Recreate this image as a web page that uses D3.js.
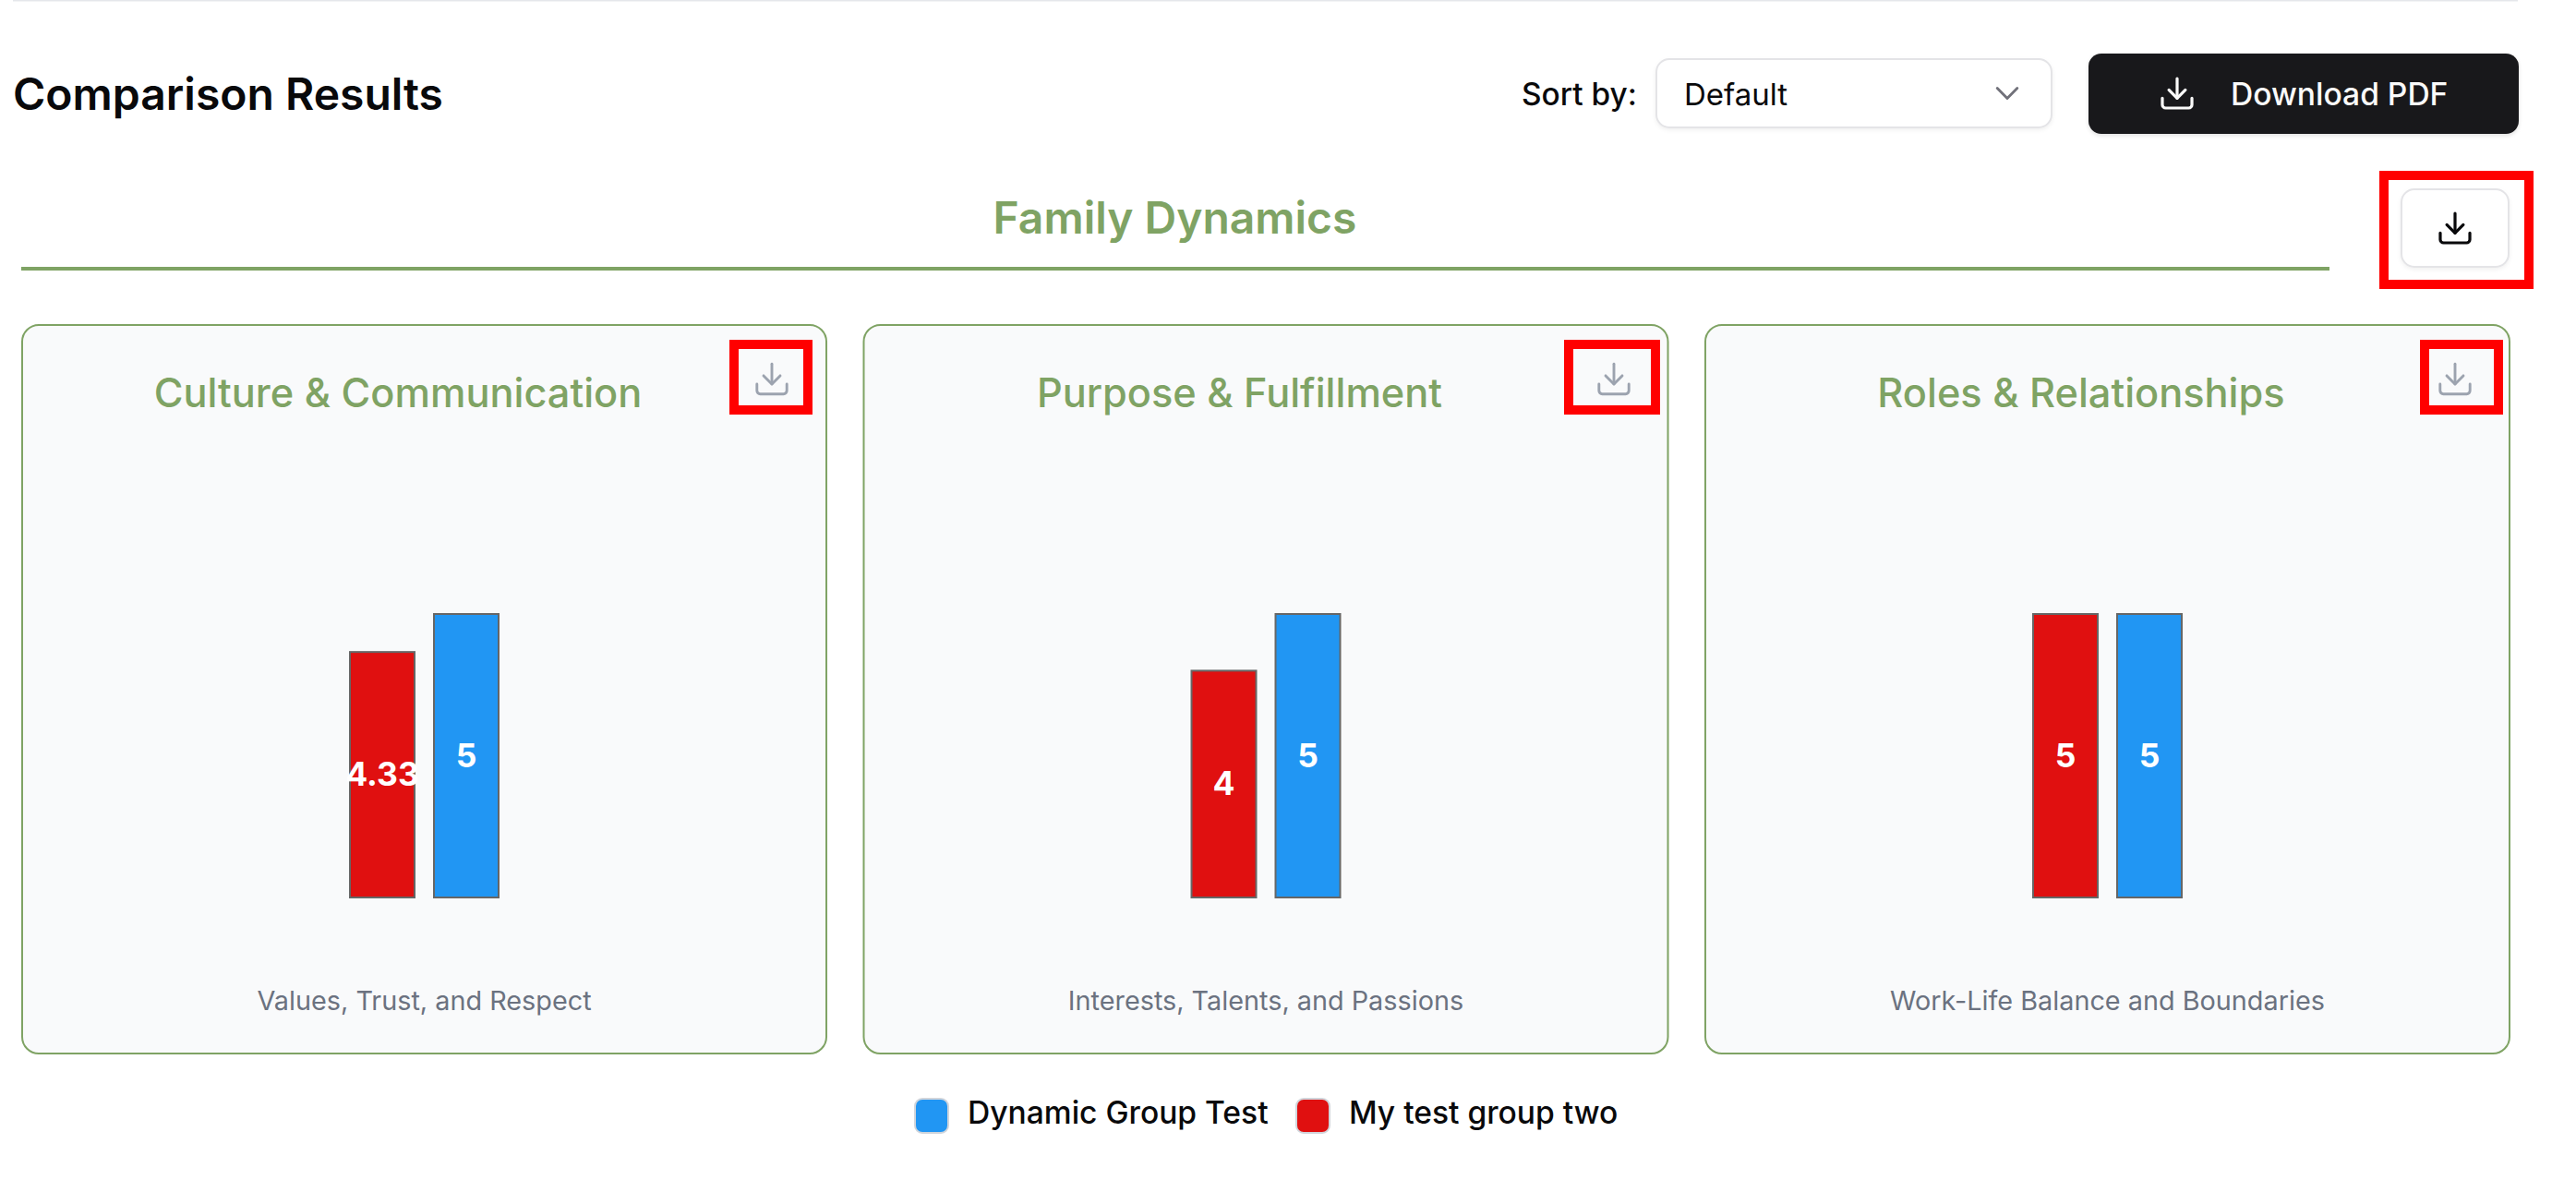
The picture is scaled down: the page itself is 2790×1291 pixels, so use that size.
<!DOCTYPE html>
<html>
<head>
<meta charset="utf-8">
<script src="https://cdn.jsdelivr.net/npm/d3@7"></script>
<style>
  html, body { margin: 0; padding: 0; background: #fff; }
  svg { display: block; font-family: Inter, sans-serif; }
</style>
</head>
<body>
<svg id="chart"></svg>
<script>
// data
var categories = ["Culture & Communication", "Purpose & Fulfillment", "Roles & Relationships"];
var subtitles = ["Values, Trust, and Respect", "Interests, Talents, and Passions", "Work-Life Balance and Boundaries"];
var seriesNames = ["My test group two", "Dynamic Group Test"];
var myGroupValues = [4.33, 4, 5];
var dynamicValues = [5, 5, 5];
var legendNames = ["Dynamic Group Test", "My test group two"];
var seriesColors = { "My test group two": "#e01010", "Dynamic Group Test": "#2196f3" };

var green = "#7fa364";
var svg = d3.select("#chart").attr("width", 2790).attr("height", 1291);

var x = d3.scaleBand().domain(categories).range([23, 2719]).paddingInner(0.0422);
var barX = d3.scaleBand().domain(seriesNames).range([-80.5, 80.5]).paddingInner(21 / 91);
var y = d3.scaleLinear().domain([0, 5]).range([972, 665]);

function downloadIcon(parent, cx, cy, scale, color, width) {
    var g = parent.append("g")
        .attr("transform", "translate(" + cx + "," + cy + ") scale(" + scale + ") translate(-12,-12)")
        .attr("fill", "none").attr("stroke", color).attr("stroke-width", width)
        .attr("stroke-linecap", "round").attr("stroke-linejoin", "round");
    g.append("path").attr("d", "M21 15v4a2 2 0 0 1-2 2H5a2 2 0 0 1-2-2v-4");
    g.append("path").attr("d", "M7 10l5 5 5-5");
    g.append("path").attr("d", "M12 15V3");
}

function redBox(x0, y0, x1, y1) {
    svg.append("rect").attr("x", x0 + 5).attr("y", y0 + 5)
        .attr("width", x1 - x0 - 10).attr("height", y1 - y0 - 10)
        .attr("fill", "none").attr("stroke", "#ff0000").attr("stroke-width", 10);
}

function label(parent, tx, ty, s, size, weight, color, anchor) {
    return parent.append("text").attr("x", tx).attr("y", ty).text(s)
        .attr("font-size", size).attr("font-weight", weight).attr("fill", color)
        .attr("text-anchor", anchor || "start");
}

// header
svg.append("rect").attr("x", 14).attr("y", 0).attr("width", 2713).attr("height", 1.5).attr("fill", "#e5e7eb");
label(svg, 14, 118.8, "Comparison Results", 48, 600, "#09090b");
label(svg, 1648, 113.8, "Sort by:", 33.4, 500, "#09090b");

svg.append("rect").attr("x", 1794).attr("y", 64).attr("width", 428).attr("height", 74).attr("rx", 14)
    .attr("fill", "#fff").attr("stroke", "#e4e4e7").attr("stroke-width", 2)
    .style("filter", "drop-shadow(0 2px 2px rgba(0,0,0,.06))");
label(svg, 1824, 113.8, "Default", 33, 400, "#09090b");
svg.append("path").attr("d", "M6 9l6 6 6-6")
    .attr("transform", "translate(2174,101) scale(1.8) translate(-12,-12)")
    .attr("fill", "none").attr("stroke", "#71717a").attr("stroke-width", 1.6)
    .attr("stroke-linecap", "round").attr("stroke-linejoin", "round");

svg.append("rect").attr("x", 2262).attr("y", 58).attr("width", 466).attr("height", 87).attr("rx", 14)
    .attr("fill", "#18181b").style("filter", "drop-shadow(0 2px 2px rgba(0,0,0,.12))");
downloadIcon(svg, 2358, 101, 1.78, "#fafafa", 1.8);
label(svg, 2416, 113.8, "Download PDF", 33.6, 500, "#fafafa");

// section title
label(svg, 1272.5, 253, "Family Dynamics", 48, 600, green, "middle");
svg.append("rect").attr("x", 23).attr("y", 289).attr("width", 2500).attr("height", 4).attr("fill", green);
svg.append("rect").attr("x", 2601).attr("y", 205).attr("width", 116).attr("height", 84).attr("rx", 14)
    .attr("fill", "#fff").attr("stroke", "#e4e4e7").attr("stroke-width", 2)
    .style("filter", "drop-shadow(0 2px 2px rgba(0,0,0,.06))");
downloadIcon(svg, 2659, 247, 1.78, "#09090b", 1.8);
redBox(2577, 185, 2744, 313);

// cards
var card = svg.selectAll("g.card").data(categories).join("g").attr("class", "card");

card.append("rect")
    .attr("x", function (d) { return x(d) + 1; })
    .attr("y", 352)
    .attr("width", x.bandwidth() - 2)
    .attr("height", 789)
    .attr("rx", 18)
    .attr("fill", "#f9fafb")
    .attr("stroke", green)
    .attr("stroke-width", 2);

card.append("text")
    .attr("x", function (d) { return x(d) + x.bandwidth() / 2 - 28.5; })
    .attr("y", 441)
    .attr("text-anchor", "middle")
    .attr("font-size", 43.3)
    .attr("font-weight", 500)
    .attr("fill", green)
    .text(function (d) { return d; });

card.append("text")
    .attr("x", function (d) { return x(d) + x.bandwidth() / 2; })
    .attr("y", 1093.5)
    .attr("text-anchor", "middle")
    .attr("font-size", 28.8)
    .attr("fill", "#6b7280")
    .text(function (d, i) { return subtitles[i]; });

// bars
categories.forEach(function (cat, i) {
    var cx = x(cat) + x.bandwidth() / 2;
    var rows = [
        { name: seriesNames[0], value: myGroupValues[i] },
        { name: seriesNames[1], value: dynamicValues[i] }
    ];
    var g = svg.append("g").attr("transform", "translate(" + cx + ",0)");

    g.selectAll("rect").data(rows).join("rect")
        .attr("x", function (d) { return barX(d.name); })
        .attr("y", function (d) { return y(d.value); })
        .attr("width", barX.bandwidth())
        .attr("height", function (d) { return y(0) - y(d.value); })
        .attr("fill", function (d) { return seriesColors[d.name]; })
        .attr("stroke", "#666")
        .attr("stroke-width", 2);

    g.selectAll("text").data(rows).join("text")
        .attr("x", function (d) { return barX(d.name) + barX.bandwidth() / 2; })
        .attr("y", function (d) { return (y(d.value) + y(0)) / 2 + 12; })
        .attr("text-anchor", "middle")
        .attr("font-size", 35.5)
        .attr("font-weight", 700)
        .attr("fill", "#fff")
        .text(function (d) { return d.value; });
});

// small download buttons
var iconX = [836, 1748, 2659];
var boxes = [[790, 880], [1694, 1798], [2621, 2711]];
iconX.forEach(function (cx, i) {
    downloadIcon(svg, cx, 410.5, 1.8, "#9ca3af", 1.6);
    redBox(boxes[i][0], 368, boxes[i][1], 449);
});

// legend
var legendX = [991, 1404];
var legendTextX = [1048, 1461];
legendNames.forEach(function (name, i) {
    svg.append("rect").attr("x", legendX[i]).attr("y", 1190).attr("width", 36).attr("height", 37).attr("rx", 8)
        .attr("fill", seriesColors[name]).attr("stroke", "#d1d5db").attr("stroke-width", 2);
    label(svg, legendTextX[i], 1217, name, 33.6, 500, "#09090b");
});
</script>
</body>
</html>
